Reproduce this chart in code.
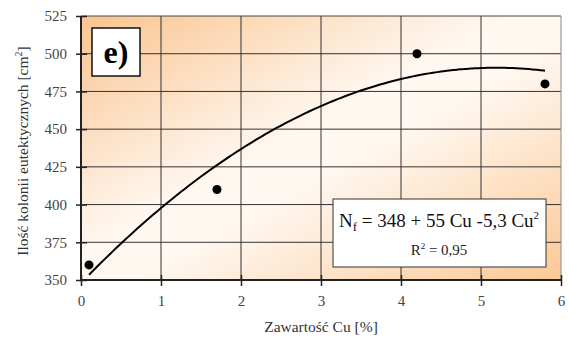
<!DOCTYPE html>
<html>
<head>
<meta charset="utf-8">
<script src="https://cdn.jsdelivr.net/npm/d3@7"></script>
<style>
	body { margin: 0; background: #fff; }
</style>
</head>
<body>
<div id="chart"></div>
<script>
// measured points
var cuValues = [0.1, 1.7, 4.2, 5.8];
var colonyValues = [360, 410, 500, 480];
// trend line coefficients, as printed on the chart: a + b*x + c*x^2
var trendCoeffs = [348, 55, -5.3];
var xTicks = [0, 1, 2, 3, 4, 5, 6];
var yTicks = [350, 375, 400, 425, 450, 475, 500, 525];

var width = 569,
	height = 340;
var margin = { left: 81, top: 16, right: 8, bottom: 60 };

var svg = d3
	.select('#chart')
	.append('svg')
	.attr('width', width)
	.attr('height', height);

var x = d3
	.scaleLinear()
	.domain([0, 6])
	.range([margin.left, width - margin.right]);
var y = d3
	.scaleLinear()
	.domain([350, 525])
	.range([height - margin.bottom, margin.top]);

var defs = svg.append('defs');
var grad = defs
	.append('linearGradient')
	.attr('id', 'bg')
	.attr('x1', '0%')
	.attr('y1', '0%')
	.attr('x2', '100%')
	.attr('y2', '100%');
grad.append('stop').attr('offset', '0%').attr('stop-color', '#f9c48f');
grad.append('stop').attr('offset', '45%').attr('stop-color', '#fff8f1');
grad.append('stop').attr('offset', '55%').attr('stop-color', '#fff8f1');
grad.append('stop').attr('offset', '100%').attr('stop-color', '#fbc895');

svg.append('rect')
	.attr('x', x(0))
	.attr('y', y(525))
	.attr('width', x(6) - x(0))
	.attr('height', y(350) - y(525))
	.attr('fill', 'url(#bg)');

// grid
svg.append('g')
	.selectAll('line')
	.data(yTicks.slice(1))
	.enter()
	.append('line')
	.attr('x1', x(0))
	.attr('x2', x(6))
	.attr('y1', d => y(d))
	.attr('y2', d => y(d))
	.attr('stroke', d => (d == 525 ? '#444' : '#333'))
	.attr('stroke-width', 1);

svg.append('g')
	.selectAll('line')
	.data(xTicks.slice(1))
	.enter()
	.append('line')
	.attr('x1', d => x(d))
	.attr('x2', d => x(d))
	.attr('y1', y(350))
	.attr('y2', y(525))
	.attr('stroke', d => (d == 6 ? '#888' : '#333'))
	.attr('stroke-width', 1);

// axes
var yAxis = d3
	.axisLeft(y)
	.tickValues(yTicks)
	.tickFormat(d3.format('d'))
	.tickSize(11)
	.tickPadding(3);
var yg = svg
	.append('g')
	.attr('transform', 'translate(' + (x(0) + 6) + ',0)')
	.call(yAxis);
yg.select('.domain').remove();
yg.selectAll('line').attr('stroke', '#222').attr('stroke-width', 1.5);
yg.selectAll('text')
	.attr('x', -20)
	.attr('font-size', 15)
	.attr('fill', '#444');

var xAxis = d3
	.axisBottom(x)
	.tickValues(xTicks)
	.tickFormat(d3.format('d'))
	.tickSize(11)
	.tickPadding(3);
var xg = svg
	.append('g')
	.attr('transform', 'translate(0,' + (y(350) - 5) + ')')
	.call(xAxis);
xg.select('.domain').remove();
xg.selectAll('line').attr('stroke', '#222').attr('stroke-width', 1.5);
xg.selectAll('text')
	.attr('y', 20)
	.attr('font-size', 15)
	.attr('fill', '#444');

svg.append('line')
	.attr('x1', x(0))
	.attr('x2', x(0))
	.attr('y1', y(350))
	.attr('y2', y(525))
	.attr('stroke', '#222')
	.attr('stroke-width', 2);
svg.append('line')
	.attr('x1', x(0))
	.attr('x2', x(6))
	.attr('y1', y(350))
	.attr('y2', y(350))
	.attr('stroke', '#222')
	.attr('stroke-width', 2);

// trend line
var trendX = d3.range(0.1, 5.8001, 0.05);
var line = d3
	.line()
	.x(d => x(d))
	.y(d => y(trendCoeffs[0] + trendCoeffs[1] * d + trendCoeffs[2] * d * d))
	.curve(d3.curveMonotoneX);
svg.append('path')
	.datum(trendX)
	.attr('d', line)
	.attr('fill', 'none')
	.attr('stroke', '#000')
	.attr('stroke-width', 2);

// points
svg.append('g')
	.selectAll('circle')
	.data(cuValues)
	.enter()
	.append('circle')
	.attr('cx', d => x(d))
	.attr('cy', (d, i) => y(colonyValues[i]))
	.attr('r', 4.5)
	.attr('fill', '#000');

// "e)" label
svg.append('rect')
	.attr('x', 92)
	.attr('y', 28)
	.attr('width', 48)
	.attr('height', 48)
	.attr('fill', '#fff')
	.attr('stroke', '#111')
	.attr('stroke-width', 1.5);
svg.append('text')
	.attr('x', 116)
	.attr('y', 63)
	.attr('text-anchor', 'middle')
	.attr('font-size', 32)
	.attr('font-weight', 'bold')
	.attr('fill', '#000')
	.text('e)');

// equation box
svg.append('rect')
	.attr('x', 333)
	.attr('y', 199)
	.attr('width', 213)
	.attr('height', 68)
	.attr('fill', '#fff')
	.attr('stroke', '#333')
	.attr('stroke-width', 1);
var eq = svg
	.append('text')
	.attr('x', 439)
	.attr('y', 227)
	.attr('text-anchor', 'middle')
	.attr('font-size', 19)
	.attr('fill', '#111');
eq.append('tspan').text('N');
eq.append('tspan').attr('font-size', 13).attr('dy', 4).text('f');
eq.append('tspan').attr('dy', -4).text(' = 348 + 55 Cu -5,3 Cu');
eq.append('tspan').attr('font-size', 11).attr('dy', -8).text('2');

var r2 = svg
	.append('text')
	.attr('x', 439)
	.attr('y', 255)
	.attr('text-anchor', 'middle')
	.attr('font-size', 15)
	.attr('fill', '#222');
r2.append('tspan').text('R');
r2.append('tspan').attr('font-size', 9).attr('dy', -6).text('2');
r2.append('tspan').attr('dy', 6).text(' = 0,95');

// axis titles
svg.append('text')
	.attr('x', x(3))
	.attr('y', 332)
	.attr('text-anchor', 'middle')
	.attr('font-size', 15.5)
	.attr('fill', '#333')
	.text('Zawartość Cu [%]');

var yt = svg
	.append('text')
	.attr('transform', 'translate(28,151) rotate(-90)')
	.attr('text-anchor', 'middle')
	.attr('font-size', 15.5)
	.attr('fill', '#333');
yt.append('tspan').text('Ilość kolonii eutektycznych [cm');
yt.append('tspan').attr('font-size', 10).attr('dy', -6).text('2');
yt.append('tspan').attr('dy', 6).text(']');

svg.selectAll('text').attr('font-family', 'Liberation Serif');
</script>
</body>
</html>
